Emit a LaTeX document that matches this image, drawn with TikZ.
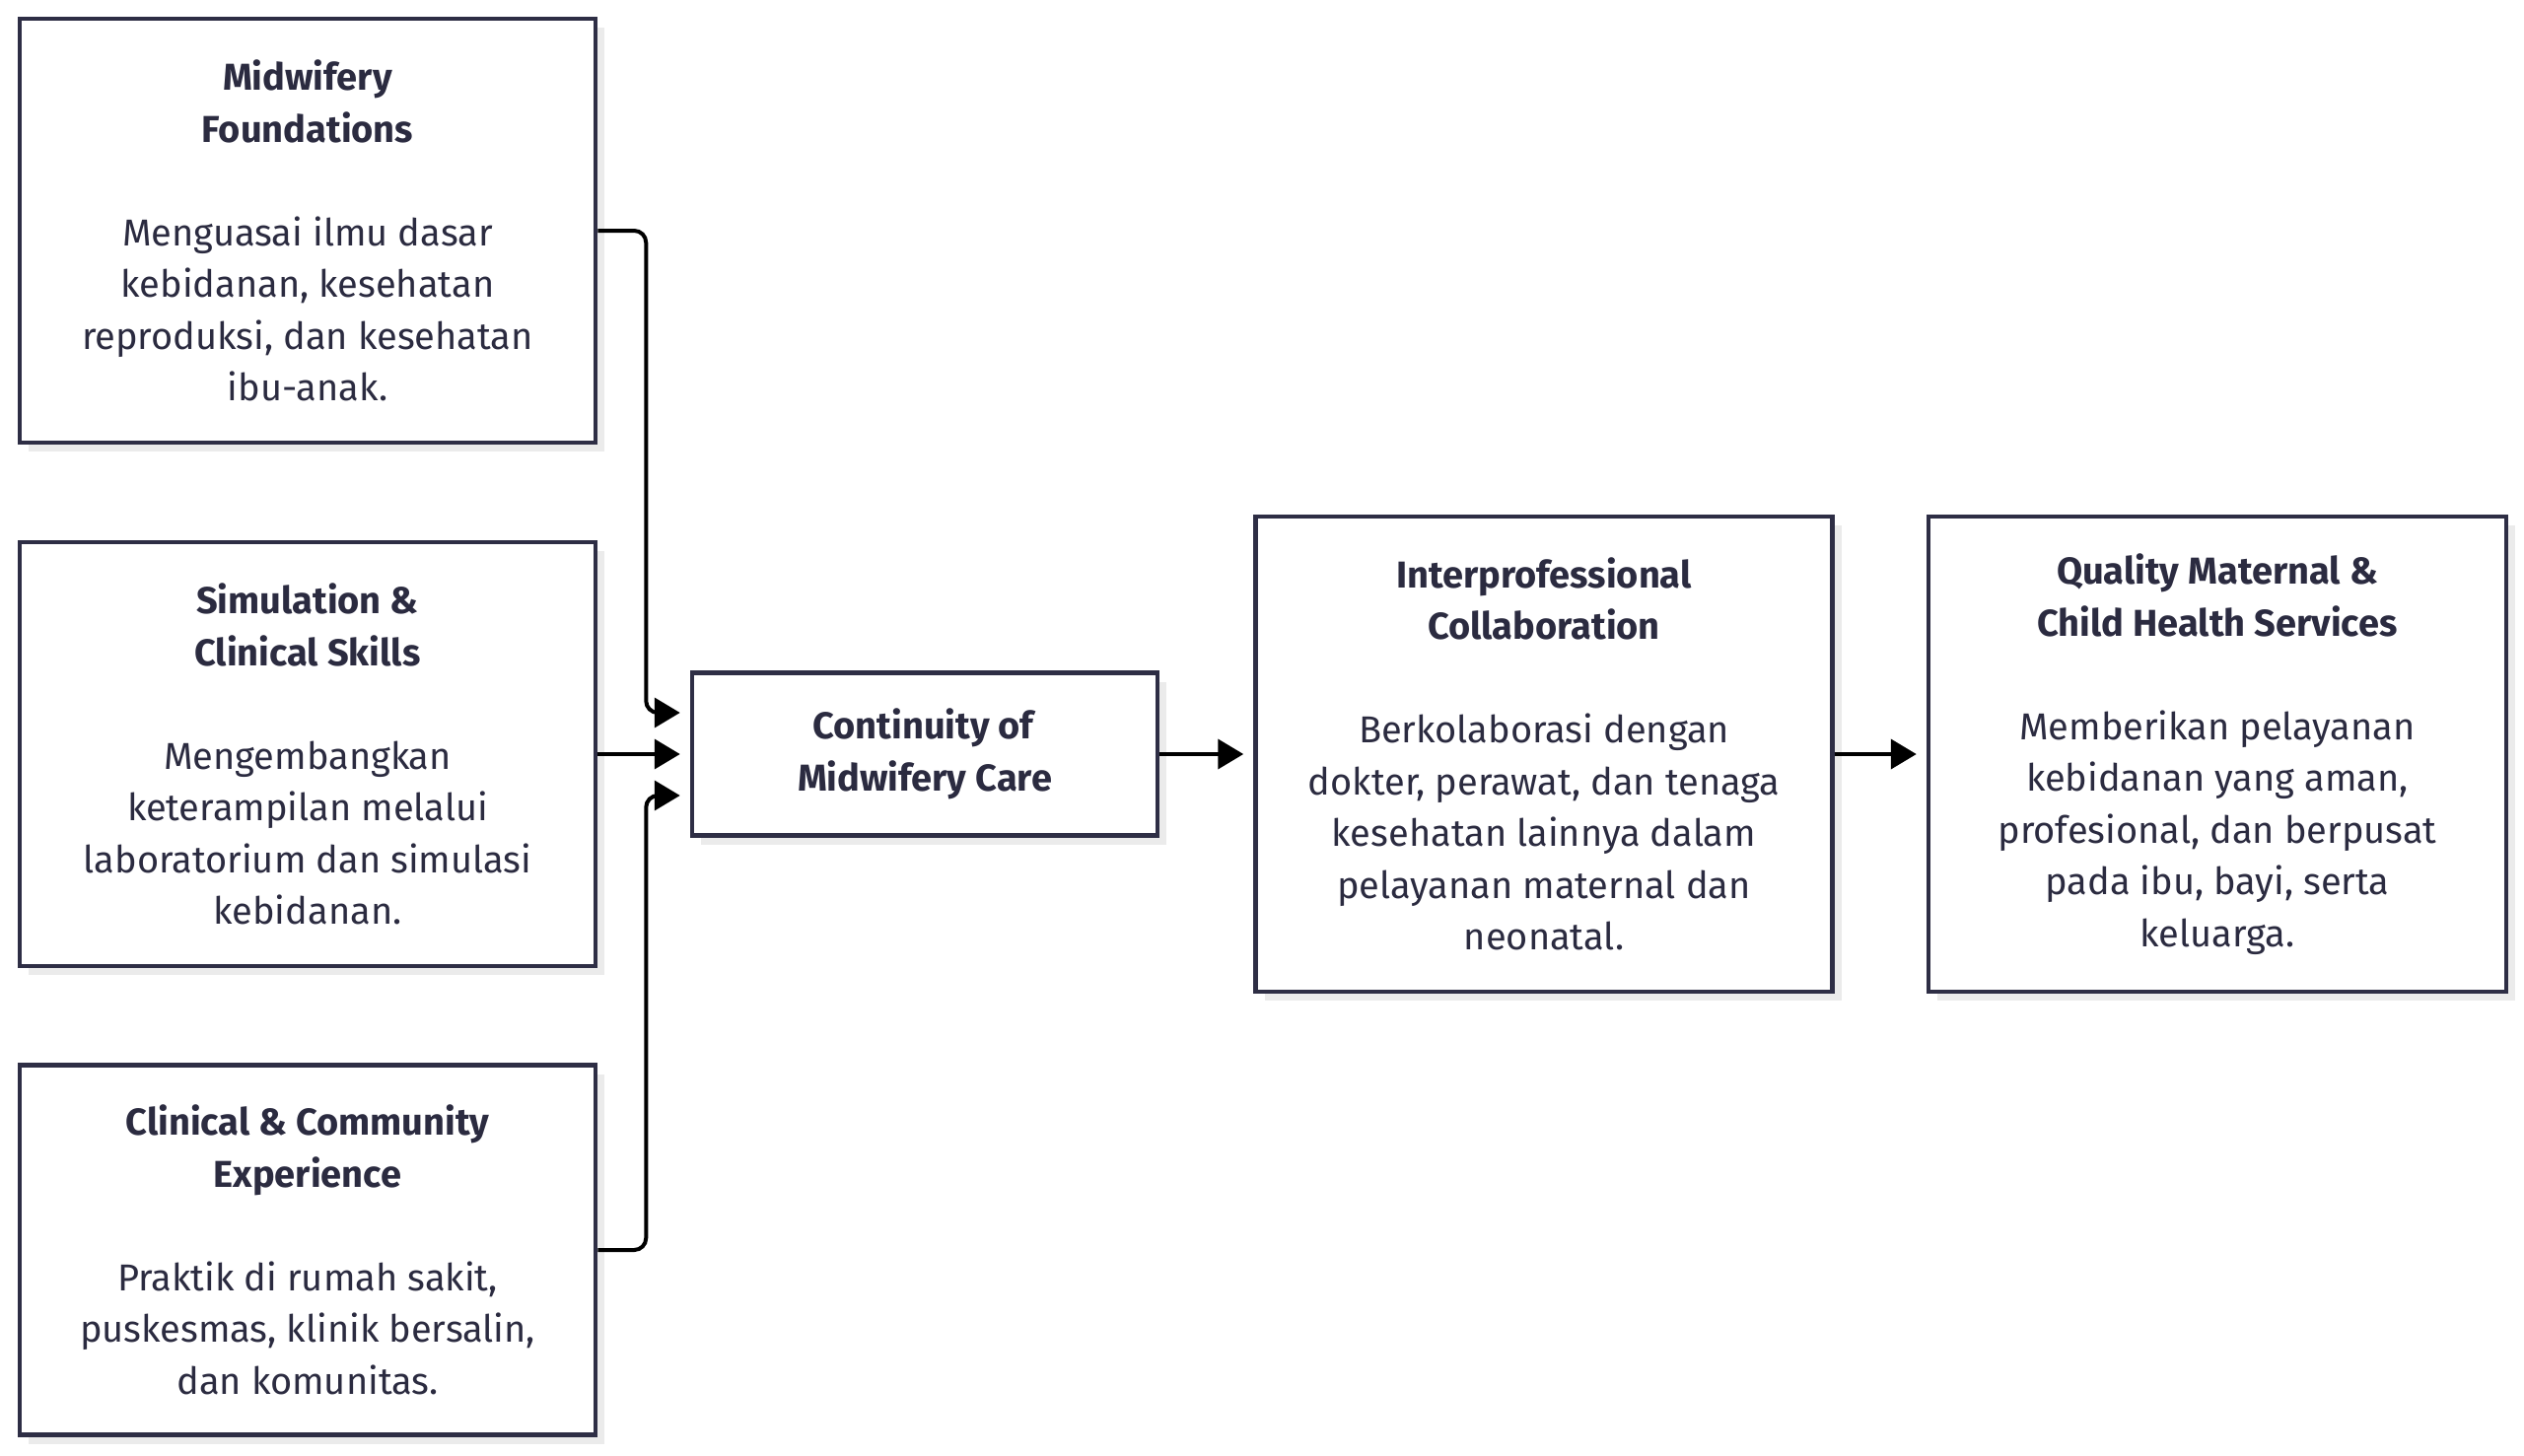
\documentclass[tikz,border=0pt]{standalone}
\usepackage{fontspec}
\setmainfont{Fira Sans}
\usetikzlibrary{arrows.meta,shadows,calc}
\definecolor{ink}{HTML}{2B2B40}
\definecolor{edge}{HTML}{2E2E45}
\definecolor{shade}{HTML}{EBEBEB}
\begin{document}
\begin{tikzpicture}[x=1pt,y=-1pt,
 card/.style={draw=edge, line width=4.5pt, fill=white, text=ink, align=center, inner sep=0pt,
   drop shadow={shadow xshift=9pt, shadow yshift=-9pt, fill=shade, opacity=1},
   font=\fontsize{38}{52.5}\selectfont},
 link/.style={draw=black, line width=4pt, rounded corners=12pt, -{Triangle[length=26pt,width=30pt]}, shorten >=10pt}
]
\path[use as bounding box] (0,0) rectangle (2560,1477);
\node[card, minimum width=584pt, minimum height=430pt] (mf) at (312,234)
 {\textbf{Midwifery}\\\textbf{Foundations}\\[52.5pt]Menguasai ilmu dasar\\kebidanan, kesehatan\\reproduksi, dan kesehatan\\ibu-anak.};
\node[card, minimum width=584pt, minimum height=430pt] (sc) at (312,765)
 {\textbf{Simulation \&}\\\textbf{Clinical Skills}\\[52.5pt]Mengembangkan\\keterampilan melalui\\laboratorium dan simulasi\\kebidanan.};
\node[card, minimum width=584pt, minimum height=375pt] (ce) at (312,1268)
 {\textbf{Clinical \& Community}\\\textbf{Experience}\\[52.5pt]Praktik di rumah sakit,\\puskesmas, klinik bersalin,\\dan komunitas.};
\node[card, minimum width=472pt, minimum height=165pt] (cm) at (938,765)
 {\textbf{Continuity of}\\\textbf{Midwifery Care}};
\node[card, minimum width=585pt, minimum height=482pt] (ip) at (1566,765)
 {\textbf{Interprofessional}\\\textbf{Collaboration}\\[52.5pt]Berkolaborasi dengan\\dokter, perawat, dan tenaga\\kesehatan lainnya dalam\\pelayanan maternal dan\\neonatal.};
\node[card, minimum width=586pt, minimum height=482pt] (qm) at (2249,765)
 {\textbf{Quality Maternal \&}\\\textbf{Child Health Services}\\[52.5pt]Memberikan pelayanan\\kebidanan yang aman,\\profesional, dan berpusat\\pada ibu, bayi, serta\\keluarga.};
\draw[link] (mf.east) -- ++(49,0) |- ($(cm.west)+(0,-42)$);
\draw[link] (sc.east) -- (cm.west);
\draw[link] (ce.east) -- ++(49,0) |- ($(cm.west)+(0,42)$);
\draw[link] (cm.east) -- (ip.west);
\draw[link] (ip.east) -- (qm.west);
\end{tikzpicture}
\end{document}
